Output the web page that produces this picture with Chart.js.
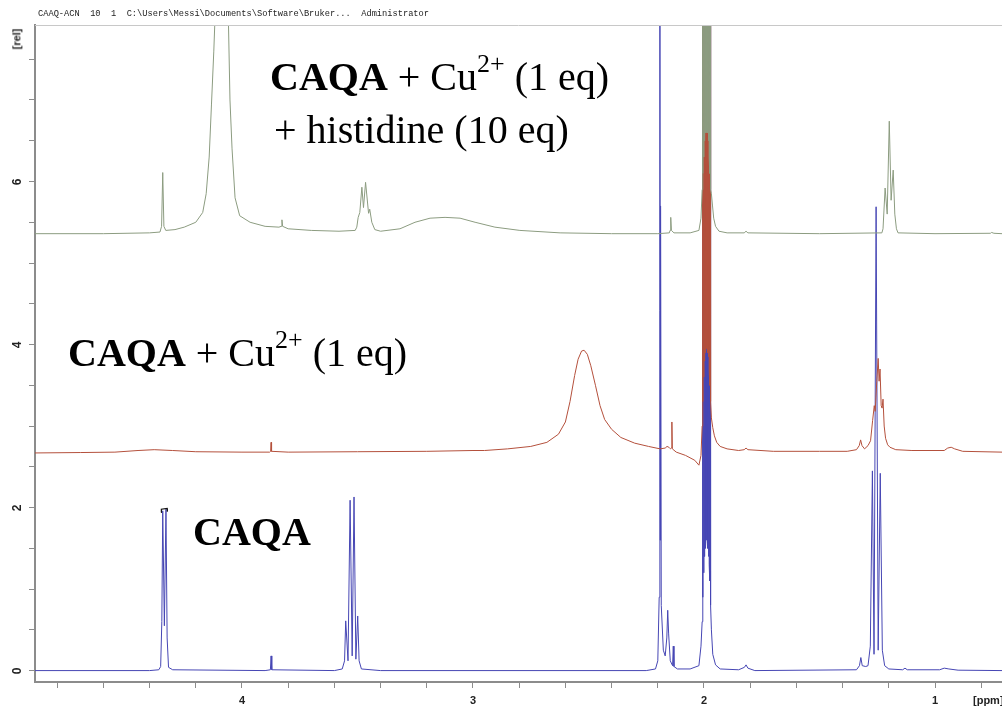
<!DOCTYPE html>
<html>
<head>
<meta charset="utf-8">
<script src="https://cdn.jsdelivr.net/npm/chart.js@4.4.1/dist/chart.umd.min.js"></script>
<style>
  body { margin: 0; background: #fff; }
  #wrap { position: relative; width: 1002px; height: 708px; overflow: hidden; }
  #chart { position: absolute; left: 0; top: 0; }
  .hdr { position: absolute; left: 38px; top: 9px; font: 8.7px 'Liberation Mono', monospace; white-space: pre; color: #222; }
  .ax { position: absolute; font: bold 11px 'Liberation Sans Narrow', 'Liberation Sans', sans-serif; color: #222; white-space: nowrap; }
  .lbl { position: absolute; font: 40px 'Liberation Serif', 'Times New Roman', serif; line-height: 40px; white-space: nowrap; color: #000; }
  .lbl sup { font-size: 26px; vertical-align: baseline; position: relative; top: -18px; }
</style>
</head>
<body>
<div id="wrap">
  <canvas id="chart" width="1002" height="708"></canvas>
  <div class="hdr">CAAQ-ACN  10  1  C:\Users\Messi\Documents\Software\Bruker...  Administrator</div>
  <div class="ax" style="left:6px; top:33px; transform: rotate(-90deg);">[rel]</div>
  <div class="ax" style="left:973px; top:694px;">[ppm]</div>
  <div class="lbl" style="left:270px; top:57px;"><b>CAQA</b> + Cu<sup>2+</sup> (1 eq)</div>
  <div class="lbl" style="left:274px; top:110px;">+ histidine (10 eq)</div>
  <div class="lbl" style="left:68px; top:333px;"><b>CAQA</b> + Cu<sup>2+</sup> (1 eq)</div>
  <div class="lbl" style="left:193px; top:512px;"><b>CAQA</b></div>
</div>
<script>
// tick labels
const ppmLabels = [1, 2, 3, 4];
const relLabels = [0, 2, 4, 6];

// [ppm, rel]
const blueTrace = [
  [4.896, 0], [4.40, 0], [4.36, 0.01], [4.352, 0.05], [4.347, 0.6], [4.343, 1.96], [4.336, 0.55],
  [4.329, 1.98], [4.324, 0.4], [4.318, 0.04], [4.30, 0.01],
  [3.90, 0], [3.877, 0.01], [3.874, 0.18], [3.871, 0.01],
  [3.60, 0], [3.566, 0.02], [3.556, 0.12], [3.551, 0.61], [3.541, 0.12], [3.532, 2.09], [3.523, 0.18],
  [3.515, 2.13], [3.507, 0.14], [3.499, 0.67], [3.493, 0.12], [3.483, 0.02], [3.40, 0],
  [2.25, 0], [2.21, 0.02], [2.200, 0.12], [2.194, 0.9], [2.191, 10], [2.1895, 1.6], [2.188, 5.7],
  [2.185, 0.8], [2.176, 0.25], [2.168, 0.18], [2.161, 0.4], [2.157, 0.74], [2.153, 0.45], [2.146, 0.12],
  [2.136, 0.06], [2.133, 0.30], [2.130, 0.05], [2.115, 0.02], [2.06, 0.02],
  [2.022, 0.06], [2.013, 0.3], [2.008, 0.6], [2.006, 12], [2.0045, 0.9], [2.003, 12], [2.0015, 1.2],
  [2.000, 12], [1.9985, 1.4], [1.997, 12], [1.9955, 1.5], [1.994, 12], [1.9925, 1.6], [1.991, 12],
  [1.9895, 1.6], [1.988, 12], [1.9865, 1.6], [1.985, 12], [1.9835, 1.5], [1.982, 12], [1.9805, 1.4],
  [1.979, 12], [1.9775, 1.3], [1.976, 12], [1.9745, 1.1], [1.973, 12], [1.9715, 0.8], [1.968, 0.5],
  [1.962, 0.2], [1.950, 0.07], [1.93, 0.02], [1.85, 0.01],
  [1.825, 0.04], [1.818, 0.07], [1.810, 0.03], [1.78, 0],
  [1.34, 0.01], [1.327, 0.06], [1.321, 0.16], [1.315, 0.06], [1.300, 0.05], [1.290, 0.06], [1.280, 0.3],
  [1.271, 2.45], [1.264, 0.2], [1.255, 5.69], [1.246, 0.25], [1.237, 2.42], [1.228, 0.25], [1.218, 0.06],
  [1.200, 0.02], [1.14, 0.01], [1.130, 0.03], [1.120, 0.01], [0.98, 0.01], [0.96, 0.03], [0.94, 0.02],
  [0.90, 0.005], [0.71, 0]
];

const redTrace = [
  [4.896, 2.67], [4.70, 2.675], [4.55, 2.68], [4.45, 2.70], [4.38, 2.71], [4.30, 2.70], [4.20, 2.685],
  [4.00, 2.68], [3.880, 2.68], [3.876, 2.69], [3.874, 2.80], [3.872, 2.69], [3.80, 2.68],
  [3.50, 2.685], [3.20, 2.69], [3.00, 2.70], [2.95, 2.70], [2.85, 2.72], [2.75, 2.75], [2.68, 2.80],
  [2.63, 2.90], [2.60, 3.05], [2.58, 3.30], [2.56, 3.62], [2.545, 3.82], [2.530, 3.92], [2.519, 3.93],
  [2.505, 3.88], [2.49, 3.74], [2.47, 3.50], [2.45, 3.25], [2.43, 3.08], [2.40, 2.96], [2.36, 2.86],
  [2.30, 2.79], [2.24, 2.75], [2.19, 2.72], [2.168, 2.73], [2.160, 2.75], [2.152, 2.74], [2.145, 2.72],
  [2.141, 2.73], [2.139, 3.05], [2.137, 2.72], [2.12, 2.68], [2.08, 2.64], [2.04, 2.58], [2.022, 2.52],
  [2.013, 2.64], [2.008, 3.0], [2.006, 12], [2.0045, 3.3], [2.003, 12], [2.0015, 3.6], [2.000, 12],
  [1.9985, 3.8], [1.997, 12], [1.9955, 3.9], [1.994, 12], [1.9925, 3.95], [1.991, 12], [1.9895, 3.95],
  [1.988, 12], [1.9865, 3.95], [1.985, 12], [1.9835, 3.9], [1.982, 12], [1.9805, 3.85], [1.979, 12],
  [1.9775, 3.7], [1.976, 12], [1.9745, 3.5], [1.973, 12], [1.9715, 3.3], [1.968, 3.1],
  [1.962, 2.98], [1.955, 2.88], [1.945, 2.80], [1.93, 2.75], [1.90, 2.72], [1.85, 2.70],
  [1.826, 2.71], [1.818, 2.73], [1.810, 2.71], [1.70, 2.69], [1.50, 2.69], [1.38, 2.69],
  [1.34, 2.71], [1.328, 2.76], [1.322, 2.83], [1.316, 2.76], [1.305, 2.72], [1.290, 2.76],
  [1.279, 2.82], [1.270, 3.07], [1.263, 3.25], [1.259, 3.18], [1.252, 3.55], [1.246, 3.83],
  [1.242, 3.55], [1.238, 3.70], [1.233, 3.25], [1.229, 3.22], [1.225, 3.33], [1.220, 3.00],
  [1.214, 2.85], [1.205, 2.77], [1.195, 2.74], [1.17, 2.71], [1.10, 2.70], [0.96, 2.70],
  [0.945, 2.73], [0.93, 2.74], [0.915, 2.72], [0.88, 2.69], [0.71, 2.68]
];

const greenTrace = [
  [4.896, 5.36], [4.60, 5.36], [4.40, 5.37], [4.355, 5.38], [4.348, 5.45], [4.343, 6.11], [4.338, 5.45],
  [4.33, 5.40], [4.29, 5.41], [4.25, 5.44], [4.20, 5.50], [4.17, 5.62], [4.155, 5.85], [4.142, 6.30],
  [4.132, 6.95], [4.122, 7.60], [4.113, 8.30], [4.09, 10], [4.061, 8.3], [4.052, 7.0], [4.043, 6.4],
  [4.030, 5.80], [4.010, 5.58], [3.965, 5.50], [3.90, 5.45], [3.84, 5.44], [3.830, 5.45], [3.827, 5.53],
  [3.824, 5.45], [3.80, 5.42], [3.70, 5.40], [3.58, 5.39], [3.51, 5.40], [3.503, 5.44], [3.497, 5.56],
  [3.490, 5.62], [3.481, 5.93], [3.474, 5.68], [3.465, 5.99], [3.452, 5.61], [3.447, 5.66],
  [3.438, 5.50], [3.425, 5.41], [3.40, 5.39], [3.316, 5.42], [3.251, 5.50], [3.186, 5.55],
  [3.121, 5.56], [3.056, 5.55], [2.991, 5.50], [2.905, 5.44], [2.797, 5.40], [2.623, 5.37],
  [2.40, 5.36], [2.20, 5.36], [2.150, 5.37], [2.147, 5.40], [2.144, 5.56], [2.141, 5.40], [2.13, 5.37],
  [2.06, 5.37], [2.022, 5.40], [2.013, 5.55], [2.008, 5.9], [2.006, 12], [2.0045, 6.1], [2.003, 12],
  [2.0015, 6.3], [2.000, 12], [1.9985, 6.5], [1.997, 12], [1.9955, 6.6], [1.994, 12], [1.9925, 6.6],
  [1.991, 12], [1.9895, 6.6], [1.988, 12], [1.9865, 6.6], [1.985, 12], [1.9835, 6.6], [1.982, 12],
  [1.9805, 6.5], [1.979, 12], [1.9775, 6.3], [1.976, 12], [1.9745, 6.1], [1.973, 12], [1.9715, 5.9],
  [1.968, 5.85], [1.963, 5.7], [1.958, 5.55], [1.950, 5.45], [1.935, 5.39], [1.90, 5.37],
  [1.826, 5.37], [1.818, 5.39], [1.810, 5.37], [1.50, 5.36], [1.23, 5.37], [1.225, 5.42],
  [1.216, 5.92], [1.207, 5.60], [1.198, 6.74], [1.190, 5.77], [1.181, 6.14], [1.174, 5.60],
  [1.167, 5.42], [1.160, 5.37], [1.00, 5.36], [0.76, 5.365], [0.755, 5.375], [0.745, 5.365], [0.71, 5.36]
];

// little black mark on top of the 4.34 doublet
const peakMark = [[4.350, 1.94], [4.349, 1.98], [4.324, 1.99], [4.323, 1.95]];

const axisGray = '#8c8c8c';
const tickFont = { family: "'Liberation Sans Narrow', 'Liberation Sans', sans-serif", size: 11, weight: 'bold' };

function toXY(arr) {
  return arr.map(p => ({ x: p[0], y: p[1] }));
}

const topBorder = {
  id: 'topBorder',
  afterDraw(chart) {
    const { ctx, chartArea } = chart;
    ctx.save();
    ctx.strokeStyle = '#c8c8c8';
    ctx.lineWidth = 1;
    ctx.beginPath();
    ctx.moveTo(chartArea.left, chartArea.top + 0.5);
    ctx.lineTo(chartArea.right, chartArea.top + 0.5);
    ctx.stroke();
    ctx.restore();
  }
};

new Chart(document.getElementById('chart'), {
  type: 'line',
  data: {
    datasets: [
      { data: toXY(peakMark), borderColor: '#111', borderWidth: 1.2 },
      { data: toXY(greenTrace), borderColor: '#8c9c80' },
      { data: toXY(redTrace), borderColor: '#b4503c' },
      { data: toXY(blueTrace), borderColor: '#4646b4' }
    ]
  },
  options: {
    responsive: false,
    animation: false,
    layout: { padding: { top: 25, left: 0, right: 0, bottom: 0 } },
    plugins: { legend: { display: false }, tooltip: { enabled: false } },
    elements: {
      point: { radius: 0, hoverRadius: 0 },
      line: { borderWidth: 1, tension: 0, fill: false }
    },
    scales: {
      x: {
        type: 'linear',
        reverse: true,
        min: 0.71,
        max: 4.896,
        afterFit: s => { s.height = 26; },
        border: { display: true, color: axisGray, width: 2 },
        grid: { drawOnChartArea: false, drawTicks: true, tickLength: 6, color: axisGray },
        ticks: {
          stepSize: 0.2,
          includeBounds: false,
          autoSkip: false,
          maxRotation: 0,
          padding: 6,
          color: '#222',
          font: tickFont,
          callback: v => {
            const r = Math.round(v);
            return (Math.abs(v - r) < 1e-6 && ppmLabels.includes(r)) ? String(r) : '';
          }
        }
      },
      y: {
        min: -0.14,
        max: 7.92,
        afterFit: s => { s.width = 35; },
        border: { display: true, color: axisGray, width: 2 },
        grid: { drawOnChartArea: false, drawTicks: true, tickLength: 6, color: axisGray },
        ticks: {
          stepSize: 0.5,
          includeBounds: false,
          autoSkip: false,
          minRotation: 90,
          maxRotation: 90,
          padding: 11,
          labelOffset: -3,
          color: '#222',
          font: { family: tickFont.family, size: 12, weight: 'bold' },
          callback: v => {
            const r = Math.round(v);
            return (Math.abs(v - r) < 1e-6 && relLabels.includes(r)) ? String(r) : '';
          }
        }
      }
    }
  },
  plugins: [topBorder]
});
</script>
</body>
</html>
